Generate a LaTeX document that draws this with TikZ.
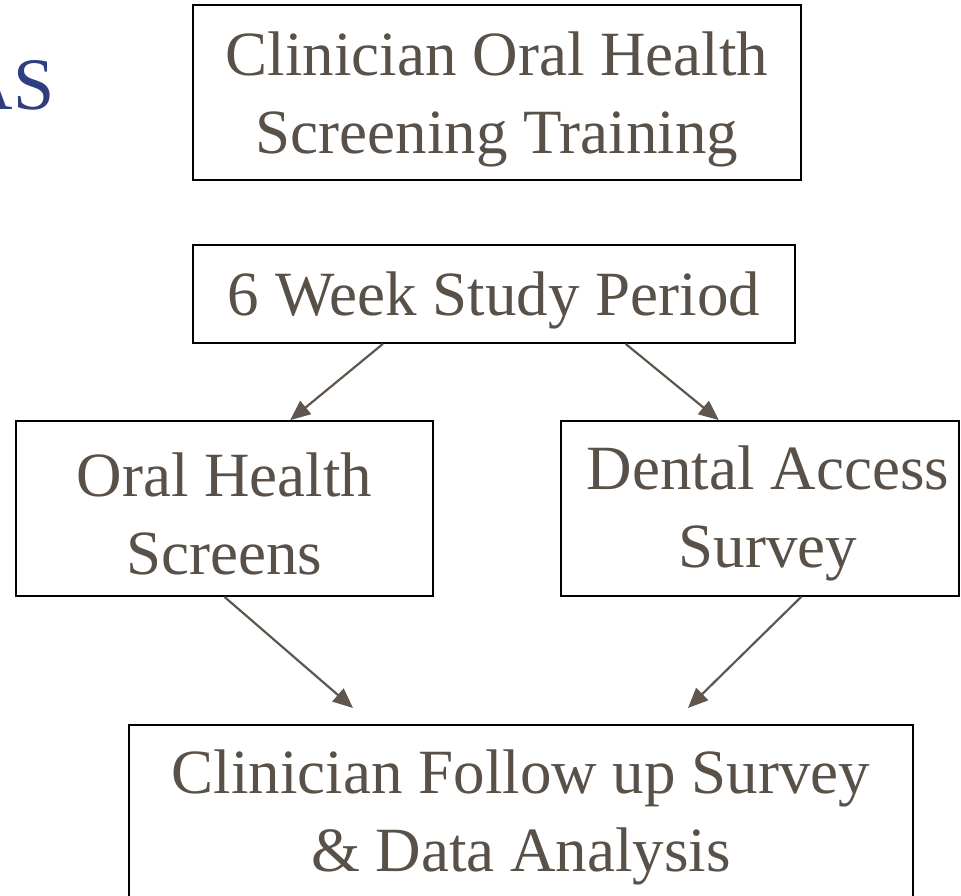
\documentclass[tikz,border=0pt]{standalone}
\usepackage{fontspec}
\setmainfont{Liberation Serif}
\usetikzlibrary{arrows.meta,calc}
\definecolor{txt}{HTML}{595048}
\definecolor{arr}{HTML}{5F574F}
\definecolor{ttl}{HTML}{2E3E7E}
\begin{document}
\begin{tikzpicture}[x=1pt,y=-1pt,
  box/.style={draw=black,line width=1.8pt,inner sep=0pt},
  lbl/.style={text=txt,align=center,inner sep=0pt,font=\fontsize{63}{78}\selectfont},
  conn/.style={draw=arr,line width=2.2pt,-{Triangle[length=20pt,width=17pt]}}]
\useasboundingbox (0,0) rectangle (961,896);
\clip (0,0) rectangle (961,896);
\fill[white] (0,0) rectangle (961,896);
\node[anchor=base east,text=ttl,font=\fontsize{74}{90}\selectfont] (title) at (58,110) {AS};
\node[box,minimum width=608pt,minimum height=175pt] (train) at (497,92.5) {};
\node[lbl] (trainT) at ($(train.center)+(0,7)$) {Clinician Oral Health\\Screening Training};
\node[box,minimum width=602pt,minimum height=98pt] (study) at (494,294) {};
\node[lbl] (studyT) at ($(study.center)+(0,6)$) {6 Week Study Period};
\node[box,minimum width=417pt,minimum height=175pt] (oral) at (224.5,508.5) {};
\node[lbl] (oralT) at ($(oral.center)+(0,5)$) {Oral Health\\Screens};
\node[box,minimum width=398pt,minimum height=175pt] (dental) at (760,508.5) {};
\node[lbl] (dentalT) at ($(dental.center)+(8,5)$) {Dental Access\\Survey};
\node[box,minimum width=784pt,minimum height=180pt] (final) at (521,815) {};
\node[lbl] (finalT) at ($(final.center)+(0,2)$) {Clinician Follow up Survey\\\& Data Analysis};
\coordinate (e1) at (353,708);
\coordinate (e2) at (688,708);
\draw[conn] ($(study.south west)!0.316!(study.south east)$) -- ($(oral.north west)!0.657!(oral.north east)$);
\draw[conn] ($(study.south west)!0.718!(study.south east)$) -- ($(dental.north west)!0.397!(dental.north east)$);
\draw[conn] (oral.south) -- (e1);
\draw[conn] ($(dental.south west)!0.603!(dental.south east)$) -- (e2);
\end{tikzpicture}
\end{document}
